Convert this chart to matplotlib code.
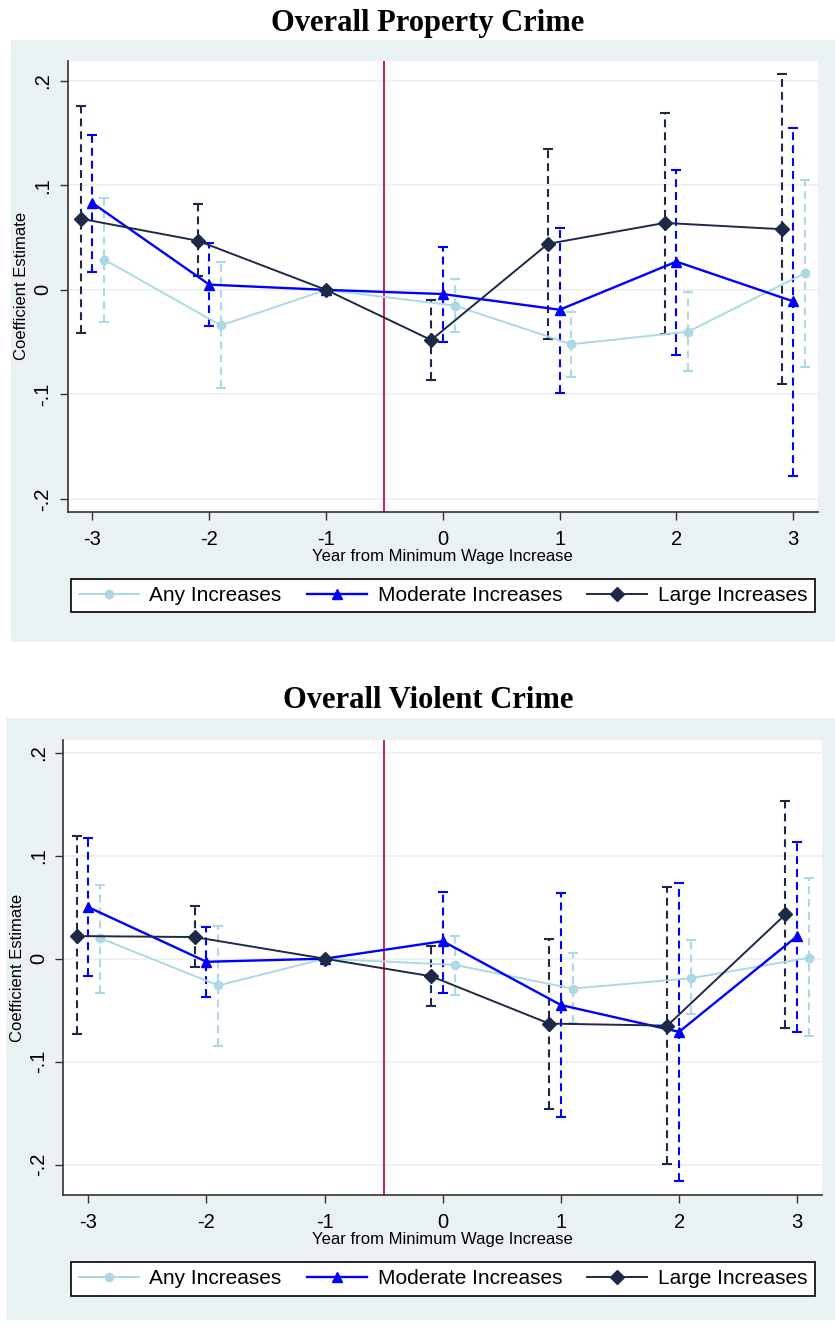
import numpy as np
import matplotlib.pyplot as plt
from matplotlib.patches import Rectangle
from matplotlib.lines import Line2D

plt.rcParams['font.family'] = ['Liberation Sans', 'DejaVu Sans']

years = [-3, -2, -1, 0, 1, 2, 3]
nan = np.nan

# Overall Property Crime
prop_any_est = [0.029, -0.034, 0.0, -0.015, -0.052, -0.040, 0.016]
prop_any_lo = [-0.031, -0.094, nan, -0.040, -0.083, -0.078, -0.074]
prop_any_hi = [0.088, 0.027, nan, 0.010, -0.021, -0.002, 0.105]
prop_mod_est = [0.083, 0.005, 0.0, -0.004, -0.019, 0.027, -0.011]
prop_mod_lo = [0.017, -0.035, nan, -0.050, -0.099, -0.062, -0.178]
prop_mod_hi = [0.148, 0.045, nan, 0.041, 0.059, 0.115, 0.155]
prop_lrg_est = [0.068, 0.047, 0.0, -0.048, 0.044, 0.064, 0.058]
prop_lrg_lo = [-0.041, 0.013, nan, -0.086, -0.047, -0.042, -0.090]
prop_lrg_hi = [0.176, 0.082, nan, -0.010, 0.135, 0.169, 0.206]

# Overall Violent Crime
viol_any_est = [0.020, -0.026, 0.0, -0.006, -0.029, -0.019, 0.001]
viol_any_lo = [-0.033, -0.085, nan, -0.035, -0.062, -0.054, -0.075]
viol_any_hi = [0.072, 0.032, nan, 0.022, 0.006, 0.018, 0.078]
viol_mod_est = [0.050, -0.003, 0.0, 0.017, -0.045, -0.071, 0.022]
viol_mod_lo = [-0.017, -0.037, nan, -0.033, -0.154, -0.216, -0.071]
viol_mod_hi = [0.117, 0.031, nan, 0.065, 0.064, 0.073, 0.113]
viol_lrg_est = [0.022, 0.021, 0.0, -0.017, -0.063, -0.065, 0.043]
viol_lrg_lo = [-0.073, -0.008, nan, -0.046, -0.146, -0.199, -0.067]
viol_lrg_hi = [0.119, 0.051, nan, 0.012, 0.019, 0.070, 0.153]

series_names = ['Any Increases', 'Moderate Increases', 'Large Increases']
yticks = [-0.2, -0.1, 0, 0.1, 0.2]
ytick_labels = ['-.2', '-.1', '0', '.1', '.2']

W, H = 835, 1324
bg = '#e9f1f3'
grid_col = '#eaf1f3'
c_any = '#add8e6'
c_mod = '#0000ff'
c_lrg = '#1c2a48'
c_red = '#c8102e'

fig = plt.figure(figsize=(W / 100, H / 100), dpi=100)


def rect(x0, y0, x1, y1):
    return [x0 / W, 1 - y1 / H, (x1 - x0) / W, (y1 - y0) / H]


def draw_panel(box, bgbox, title, title_y, leg_y, ylim, data):
    fig.patches.append(Rectangle((bgbox[0] / W, 1 - bgbox[3] / H),
                                 (bgbox[2] - bgbox[0]) / W, (bgbox[3] - bgbox[1]) / H,
                                 transform=fig.transFigure, facecolor=bg,
                                 edgecolor='none', zorder=-1))
    fig.text(428 / W, 1 - title_y / H, title, ha='center', va='center',
             fontsize=22, fontweight='bold', family='Liberation Serif')

    ax = fig.add_axes(rect(*box))
    ax.set_facecolor('white')
    for y in yticks:
        ax.axhline(y, color=grid_col, lw=1.2, zorder=0)
    ax.axvline(-0.5, color=c_red, lw=1.3, zorder=1)

    styles = [(c_any, 'o', 6, 1.4, 0.1),
              (c_mod, '^', 7, 1.7, 0.0),
              (c_lrg, 'D', 7, 1.4, -0.1)]
    for (est, lo, hi), (col, mk, ms, lw, off) in zip(data, styles):
        x = np.array([y + off if y != -1 else y for y in years], dtype=float)
        est = np.array(est)
        lo = np.array(lo)
        hi = np.array(hi)
        ok = ~np.isnan(lo)
        eb = ax.errorbar(x[ok], est[ok], yerr=[est[ok] - lo[ok], hi[ok] - est[ok]],
                         fmt='none', ecolor=col, elinewidth=1.5, capsize=3.3,
                         capthick=1.5, zorder=2)
        eb[2][0].set_linestyle((0, (3.8, 2.4)))
        ax.plot(x, est, color=col, lw=lw, marker=mk, ms=ms, zorder=3)

    ax.set_xlim(-3.212, 3.212)
    ax.set_ylim(*ylim)
    ax.set_xticks(years)
    ax.set_xticklabels([str(y) for y in years])
    ax.set_yticks(yticks)
    ax.set_yticklabels(ytick_labels, rotation=90, va='center')
    ax.tick_params(axis='both', labelsize=14.5, length=6, width=1, color='#333333',
                   direction='out')
    ax.tick_params(axis='x', pad=7)
    ax.tick_params(axis='y', pad=5)
    for s in ['top', 'right']:
        ax.spines[s].set_visible(False)
    for s in ['left', 'bottom']:
        ax.spines[s].set_color('#333333')
        ax.spines[s].set_linewidth(1.2)
    ax.set_xlabel('Year from Minimum Wage Increase', fontsize=12, labelpad=0)
    ax.set_ylabel('Coefficient Estimate', fontsize=12, labelpad=3)

    handles = [Line2D([], [], color=c_any, lw=1.4, marker='o', ms=6),
               Line2D([], [], color=c_mod, lw=1.7, marker='^', ms=7),
               Line2D([], [], color=c_lrg, lw=1.4, marker='D', ms=7)]
    leg = ax.legend(handles, series_names, loc='center',
                    bbox_to_anchor=(443 / W, 1 - leg_y / H),
                    bbox_transform=fig.transFigure, ncol=3, fontsize=15,
                    frameon=True, fancybox=False, edgecolor='black',
                    framealpha=1, handlelength=2.9, columnspacing=1.2,
                    handletextpad=0.5, borderpad=0.35, borderaxespad=0)
    leg.get_frame().set_linewidth(1.2)
    return ax


draw_panel((67.7, 61, 818, 511.7), (11, 40, 835, 642), 'Overall Property Crime', 23, 595.5,
           (-0.2121, 0.2188),
           [(prop_any_est, prop_any_lo, prop_any_hi),
            (prop_mod_est, prop_mod_lo, prop_mod_hi),
            (prop_lrg_est, prop_lrg_lo, prop_lrg_hi)])

draw_panel((63.3, 740, 822.3, 1195), (6, 718, 835, 1320), 'Overall Violent Crime', 701, 1279,
           (-0.2294, 0.2123),
           [(viol_any_est, viol_any_lo, viol_any_hi),
            (viol_mod_est, viol_mod_lo, viol_mod_hi),
            (viol_lrg_est, viol_lrg_lo, viol_lrg_hi)])

fig.savefig('out.png', dpi=100)
